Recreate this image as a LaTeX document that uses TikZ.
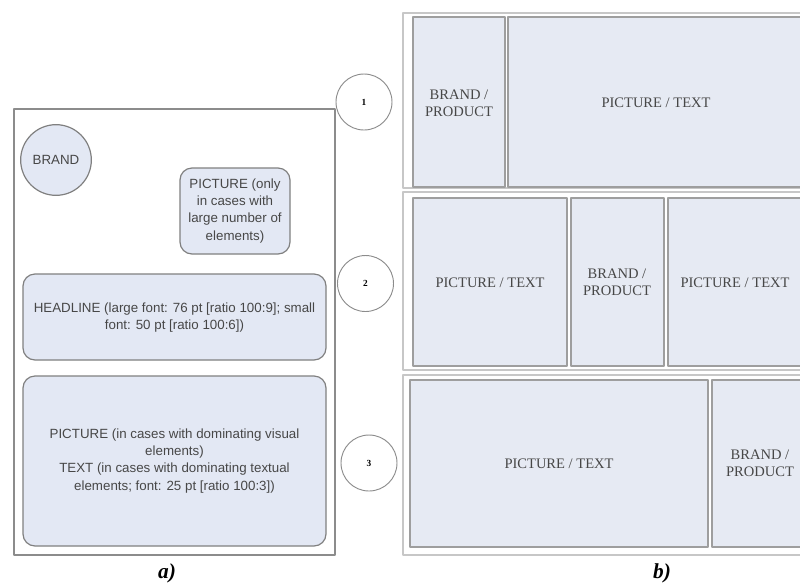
\documentclass[tikz,border=0pt]{standalone}
\usepackage{fontspec}
\setmainfont{Liberation Serif}
\newfontfamily\arialf{Liberation Sans}
\definecolor{lblue}{HTML}{E3E8F4}
\definecolor{rblue}{HTML}{E6EAF3}
\begin{document}
\begin{tikzpicture}[x=0.75pt,y=-0.75pt,line join=round,
  frame/.style={draw=black!45,line width=1.3pt,fill=white},
  lbox/.style={draw=black!50,line width=0.9pt,fill=lblue,rounded corners=9pt},
  row/.style={draw=black!22,line width=1.5pt,fill=white},
  cell/.style={draw=black!38,line width=1.4pt,fill=rblue},
  stxt/.style={font=\arialf\fontsize{10}{12.8}\selectfont,align=center,text=black!72},
  rtxt/.style={font=\fontsize{10.9}{12.5}\selectfont,align=center,text=black!72},
  numc/.style={circle,draw=black!45,line width=0.7pt,minimum size=42pt,inner sep=0pt,font=\bfseries\fontsize{7}{8}\selectfont},
  sublabel/.style={font=\bfseries\itshape\fontsize{16}{18}\selectfont}]
\useasboundingbox (0,0) rectangle (800,583);
\clip (0,0) rectangle (800,583);
\draw[frame] (14,109) rectangle (335,555);
\node[circle,draw=black!50,line width=0.9pt,fill=lblue,minimum size=53pt,inner sep=0pt,stxt] (brand) at (56,160) {BRAND};
\draw[lbox] (180,168) rectangle (290,254);
\node[stxt] (pic) at (235,211) {PICTURE (only\\in cases with\\large number of\\elements)};
\draw[lbox] (23,274) rectangle (326,360);
\node[stxt] (head) at (174.5,318) {HEADLINE (large font: 76 pt [ratio 100:9]; small\\font: 50 pt [ratio 100:6])};
\draw[lbox] (23,376) rectangle (326,546);
\node[stxt] (body) at (174.5,461) {PICTURE (in cases with dominating visual\\elements)\\TEXT (in cases with dominating textual\\elements; font: 25 pt [ratio 100:3])};
\node[sublabel] (a) at (167,573) {a)};
\foreach \t/\b in {13/188,192/370,375/555}
  \draw[row] (403,\t) rectangle (810,\b);
\draw[cell] (413,17) rectangle (505,187);
\draw[cell] (508,17) rectangle (810,187);
\draw[cell] (413,198) rectangle (567,366);
\draw[cell] (571,198) rectangle (664,366);
\draw[cell] (668,198) rectangle (810,366);
\draw[cell] (410,380) rectangle (708,547);
\draw[cell] (712,380) rectangle (810,547);
\node[rtxt] (bp1) at (459,103) {BRAND /\\PRODUCT};
\node[rtxt] (pt1) at (656,103) {PICTURE / TEXT};
\node[rtxt] (pt2) at (490,283) {PICTURE / TEXT};
\node[rtxt] (bp2) at (617,282) {BRAND /\\PRODUCT};
\node[rtxt] (pt3) at (735,283) {PICTURE / TEXT};
\node[rtxt] (pt4) at (559,464) {PICTURE / TEXT};
\node[rtxt] (bp3) at (760,463) {BRAND /\\PRODUCT};
\node[numc] (n1) at (364,102) {1};
\node[numc] (n2) at (365.5,283.5) {2};
\node[numc] (n3) at (369,463) {3};
\node[sublabel] (b) at (662,573) {b)};
\end{tikzpicture}
\end{document}
